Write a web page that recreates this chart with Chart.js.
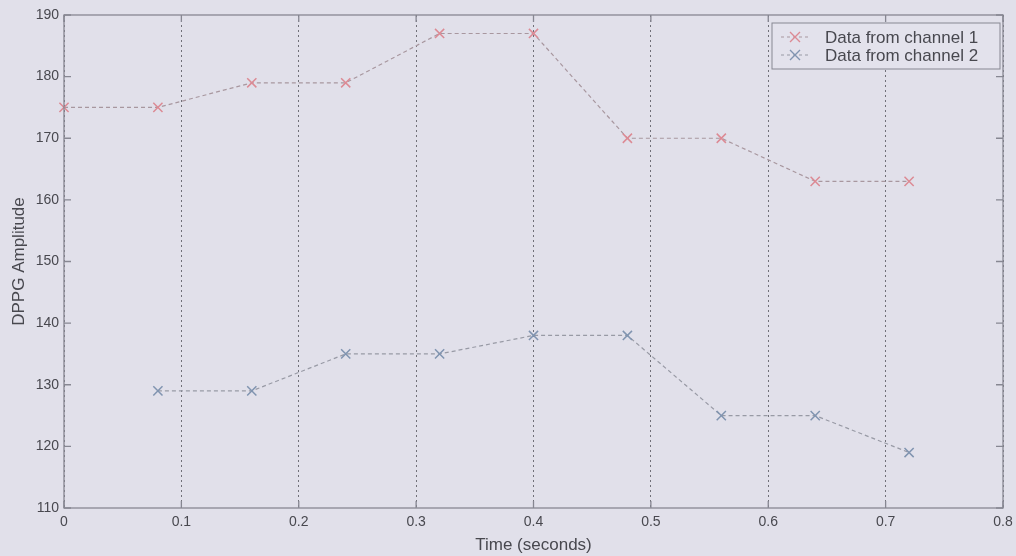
<!DOCTYPE html>
<html>
<head>
<meta charset="utf-8">
<script src="https://cdn.jsdelivr.net/npm/chart.js@4"></script>
<style>
  html, body { margin: 0; padding: 0; background: #e1e0ea; }
  #wrap { width: 1016px; height: 556px; }
</style>
</head>
<body>
<div id="wrap"><canvas id="myChart" width="1016" height="556"></canvas></div>
<script>
// data
const times1 = [0, 0.08, 0.16, 0.24, 0.32, 0.40, 0.48, 0.56, 0.64, 0.72];
const channel1 = [175, 175, 179, 179, 187, 187, 170, 170, 163, 163];
const times2 = [0.08, 0.16, 0.24, 0.32, 0.40, 0.48, 0.56, 0.64, 0.72];
const channel2 = [129, 129, 135, 135, 138, 138, 125, 125, 119];
const xTicks = [0, 0.1, 0.2, 0.3, 0.4, 0.5, 0.6, 0.7, 0.8];
const yTicks = [110, 120, 130, 140, 150, 160, 170, 180, 190];
const seriesNames = ['Data from channel 1', 'Data from channel 2'];

const frameColor = '#878792';
const textColor = '#48484f';
const fontFamily = '"Liberation Sans", Arial, sans-serif';

function toPoints(xs, ys) {
  return xs.map((x, i) => ({ x: x, y: ys[i] }));
}

// frame + inward ticks like matlab
const framePlugin = {
  id: 'frame',
  afterDraw(chart) {
    const { ctx, chartArea: a, scales } = chart;
    ctx.save();
    ctx.strokeStyle = frameColor;
    ctx.lineWidth = 1.3;
    ctx.strokeRect(a.left, a.top, a.right - a.left, a.bottom - a.top);
    ctx.beginPath();
    yTicks.forEach(v => {
      const y = scales.y.getPixelForValue(v);
      ctx.moveTo(a.left, y); ctx.lineTo(a.left + 7, y);
      ctx.moveTo(a.right, y); ctx.lineTo(a.right - 7, y);
    });
    xTicks.forEach(v => {
      const x = scales.x.getPixelForValue(v);
      ctx.moveTo(x, a.bottom); ctx.lineTo(x, a.bottom - 7);
      ctx.moveTo(x, a.top); ctx.lineTo(x, a.top + 7);
    });
    ctx.stroke();
    ctx.restore();
  }
};

// legend box inside the axes, top right
const boxLegend = {
  id: 'boxLegend',
  afterDraw(chart) {
    const { ctx, chartArea: a } = chart;
    const w = 228, h = 46;
    const left = a.right - w - 3, top = a.top + 8;
    ctx.save();
    ctx.fillStyle = '#e3e2ec';
    ctx.fillRect(left, top, w, h);
    ctx.strokeStyle = frameColor;
    ctx.lineWidth = 1;
    ctx.strokeRect(left, top, w, h);
    ctx.font = '17px ' + fontFamily;
    ctx.textBaseline = 'middle';
    chart.data.datasets.forEach((ds, i) => {
      const y = top + 14 + i * 18;
      ctx.strokeStyle = ds.borderColor;
      ctx.setLineDash([3, 3]);
      ctx.lineWidth = 1;
      ctx.beginPath();
      ctx.moveTo(left + 9, y); ctx.lineTo(left + 37, y);
      ctx.stroke();
      ctx.setLineDash([]);
      ctx.strokeStyle = ds.pointBorderColor;
      ctx.lineWidth = 1.4;
      ctx.beginPath();
      ctx.moveTo(left + 18, y - 5); ctx.lineTo(left + 28, y + 5);
      ctx.moveTo(left + 28, y - 5); ctx.lineTo(left + 18, y + 5);
      ctx.stroke();
      ctx.fillStyle = textColor;
      ctx.fillText(ds.label, left + 53, y + 1);
    });
    ctx.restore();
  }
};

const ctx = document.getElementById('myChart');

new Chart(ctx, {
  type: 'scatter',
  data: {
    datasets: [{
      label: seriesNames[0],
      data: toPoints(times1, channel1),
      showLine: true,
      clip: false,
      borderColor: '#a8979f',
      borderWidth: 1.2,
      borderDash: [4, 3],
      pointStyle: 'crossRot',
      pointRadius: 6.5,
      pointBorderWidth: 1.5,
      pointBorderColor: '#dc8a94',
      pointBackgroundColor: 'transparent'
    }, {
      label: seriesNames[1],
      data: toPoints(times2, channel2),
      showLine: true,
      clip: false,
      borderColor: '#989aa5',
      borderWidth: 1.2,
      borderDash: [4, 3],
      pointStyle: 'crossRot',
      pointRadius: 6.5,
      pointBorderWidth: 1.5,
      pointBorderColor: '#8094b0',
      pointBackgroundColor: 'transparent'
    }]
  },
  options: {
    responsive: false,
    animation: false,
    layout: { padding: { top: 15, right: 13, left: 0, bottom: 0 } },
    plugins: {
      legend: { display: false },
      tooltip: { enabled: false }
    },
    scales: {
      x: {
        type: 'linear',
        min: 0,
        max: 0.8,
        afterBuildTicks: s => { s.ticks = xTicks.map(v => ({ value: v })); },
        afterFit: s => { s.height = 48; s.paddingLeft = 0; s.paddingRight = 0; },
        grid: { color: '#707078', lineWidth: 1, drawTicks: false },
        border: { display: false, dash: [2, 3] },
        ticks: {
          color: textColor,
          font: { family: fontFamily, size: 14 },
          padding: 6,
          maxRotation: 0,
          callback: v => String(Math.round(v * 10) / 10)
        },
        title: {
          display: true,
          text: 'Time (seconds)',
          color: textColor,
          font: { family: fontFamily, size: 17 },
          padding: { top: 0, bottom: 0 }
        }
      },
      y: {
        min: 110,
        max: 190,
        afterBuildTicks: s => { s.ticks = yTicks.map(v => ({ value: v })); },
        afterFit: s => { s.width = 64; s.paddingTop = 0; s.paddingBottom = 0; },
        grid: { display: false, drawTicks: false, tickLength: 0 },
        border: { display: false },
        ticks: {
          color: textColor,
          font: { family: fontFamily, size: 14 },
          padding: 5
        },
        title: {
          display: true,
          text: 'DPPG Amplitude',
          color: textColor,
          font: { family: fontFamily, size: 17 },
          padding: { top: 9, bottom: 0 }
        }
      }
    }
  },
  plugins: [framePlugin, boxLegend]
});
</script>
</body>
</html>
